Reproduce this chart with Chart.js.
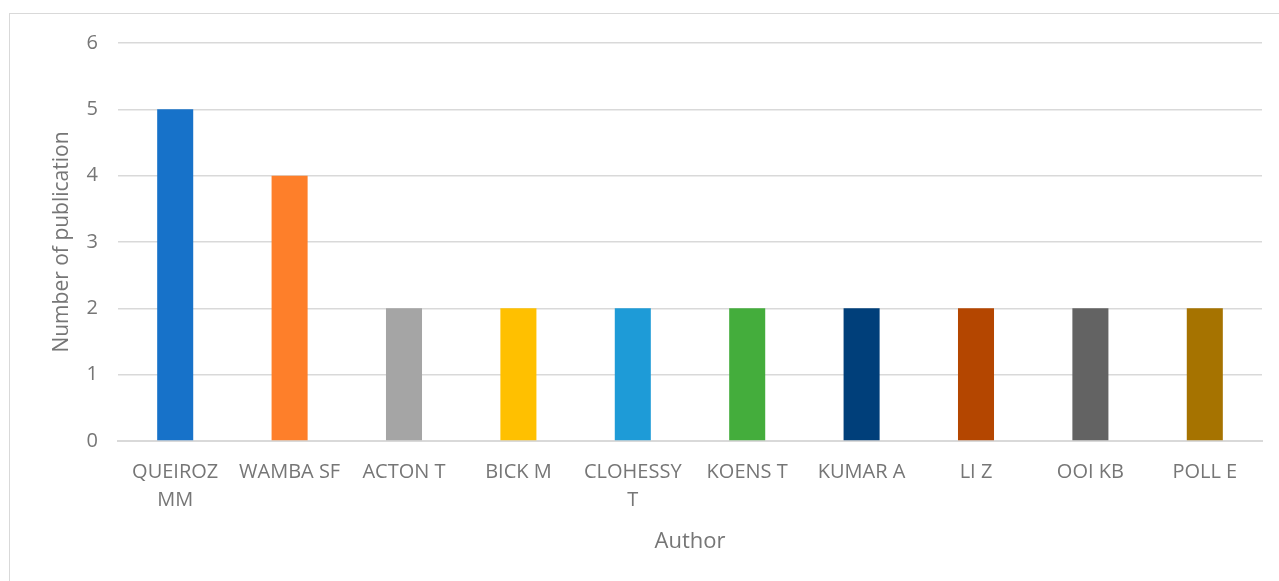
<!DOCTYPE html>
<html>
<head>
<meta charset="utf-8">
<script src="https://cdn.jsdelivr.net/npm/chart.js@4"></script>
<style>
    html, body { margin: 0; padding: 0; background: #fff; overflow: hidden; }
    #frame { position: absolute; left: 9px; top: 13px; width: 1400px; height: 700px; border: 1px solid #d9d9d9; }
    #wrap { position: absolute; left: 0; top: 0; width: 1279px; height: 581px; }
</style>
</head>
<body>
<div id="frame"></div>
<div id="wrap"><canvas id="authorChart" width="1279" height="581"></canvas></div>
<script>
const authors = [['QUEIROZ', 'MM'], 'WAMBA SF', 'ACTON T', 'BICK M', ['CLOHESSY', 'T'], 'KOENS T', 'KUMAR A', 'LI Z', 'OOI KB', 'POLL E'];
const publications = [5, 4, 2, 2, 2, 2, 2, 2, 2, 2];
const barColors = ['#1772c9', '#fe7f2a', '#a5a5a5', '#ffc000', '#1e9bd7', '#44ad3c', '#003f7a', '#b44600', '#636363', '#a67300'];
const yTicks = [0, 1, 2, 3, 4, 5, 6];

const textColor = '#767676';
const fontFamily = '"Open Sans", "Noto Sans", sans-serif';

new Chart(document.getElementById('authorChart'), {
    type: 'bar',
    data: {
        labels: authors,
        datasets: [{
            label: 'Number of publication',
            data: publications,
            backgroundColor: barColors,
            borderWidth: 0,
            categoryPercentage: 1,
            barPercentage: 0.315
        }]
    },
    options: {
        responsive: false,
        animation: false,
        devicePixelRatio: 1,
        layout: {
            padding: { left: 49, right: 17, top: 43, bottom: 0 }
        },
        plugins: {
            legend: { display: false },
            tooltip: { enabled: false }
        },
        scales: {
            y: {
                min: 0,
                max: 6,
                afterFit: (axis) => { axis.width = 69; },
                afterBuildTicks: (axis) => { axis.ticks = yTicks.map(v => ({ value: v })); },
                grid: {
                    color: '#d9d9d9',
                    lineWidth: 1.5,
                    drawTicks: false
                },
                border: { display: false },
                ticks: {
                    color: textColor,
                    padding: 20,
                    font: { family: fontFamily, size: 20 }
                },
                title: {
                    display: true,
                    text: 'Number of publication',
                    color: textColor,
                    padding: { top: 0, bottom: 0 },
                    font: { family: fontFamily, size: 21 }
                }
            },
            x: {
                afterFit: (axis) => { axis.height = 140; },
                grid: { display: false, drawTicks: false },
                border: { display: true, color: '#d9d9d9', width: 2 },
                ticks: {
                    color: textColor,
                    padding: 17,
                    maxRotation: 0,
                    autoSkip: false,
                    font: { family: fontFamily, size: 20, lineHeight: 1.4 }
                },
                title: {
                    display: true,
                    text: 'Author',
                    color: textColor,
                    padding: { top: 0, bottom: 26 },
                    font: { family: fontFamily, size: 22 }
                }
            }
        }
    }
});
</script>
</body>
</html>
